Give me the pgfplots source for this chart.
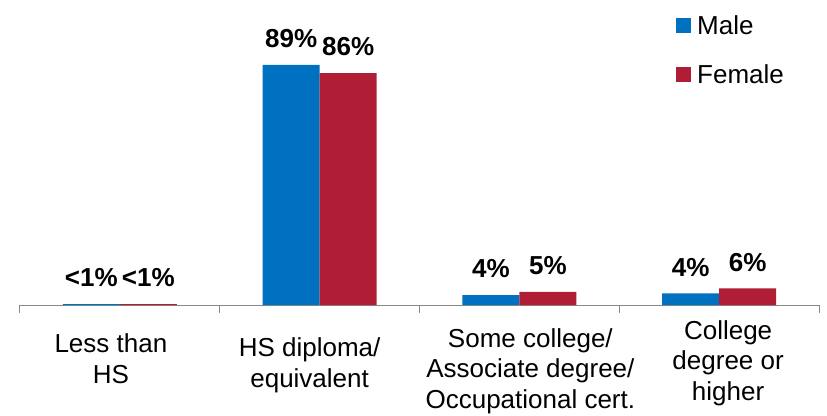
\documentclass[border=0pt]{standalone}
\usepackage{pgfplots}
\pgfplotsset{compat=1.18}
\usepackage{fontspec}
\setmainfont{Liberation Sans}
\definecolor{mblue}{RGB}{0,112,192}
\definecolor{fred}{RGB}{175,30,52}
\definecolor{axgray}{RGB}{137,137,137}
\begin{document}
\begin{tikzpicture}
\path[use as bounding box] (-20pt,-110pt) rectangle (807pt,305pt);
\begin{axis}[
  scale only axis, width=799pt, height=269.7pt,
  xmin=-0.5, xmax=3.5, ymin=0, ymax=100,
  axis y line=none, axis x line=bottom,
  x axis line style={-, draw=axgray, line width=1pt},
  xtick=\empty,
  extra x ticks={-0.5,0.5,1.5,2.5,3.5}, extra x tick labels={},
  extra x tick style={tick align=outside, major tick length=8pt, tick style={draw=axgray, line width=1pt}},
  ybar=0pt, bar width=57pt,
  clip=false,
  nodes near coords, point meta=explicit symbolic,
  every node near coord/.append style={font=\fontsize{26}{30}\selectfont\bfseries, inner sep=0pt, text depth=0pt, yshift=17pt},
  legend cell align=left,
  legend style={at={(0.821,1.075)}, anchor=north west, draw=none, fill=none,
    font=\fontsize{26}{30}\selectfont, inner sep=0pt, row sep=25pt,
    nodes={inner sep=0pt, text height=19pt, text depth=5pt},
    /tikz/every odd column/.append style={column sep=6pt},
    /tikz/every even column/.append style={column sep=0pt}},
]
\addplot[fill=mblue, draw=none, legend image code/.code={\fill[mblue] (0pt,-6pt) rectangle (15pt,9pt);}]
  coordinates {(0,0.3) [<1\%] (1,89) [89\%] (2,3.7) [4\%] (3,4.3) [4\%]};
\addplot[fill=fred, draw=none, legend image code/.code={\fill[fred] (0pt,-6pt) rectangle (15pt,9pt);}]
  coordinates {(0,0.3) [<1\%] (1,86) [86\%] (2,4.9) [5\%] (3,6.2) [6\%]};
\legend{Male, Female}
\begin{scope}[every node/.style={anchor=base, align=center, font=\fontsize{26}{30.5}\selectfont, inner sep=0pt}]
\node[xshift=-9pt, yshift=-78pt] at (axis cs:0,0) {Less than\\HS};
\node[xshift=-10pt, yshift=-82pt] at (axis cs:1,0) {HS diploma/\\equivalent};
\node[xshift=11pt, yshift=-103pt] at (axis cs:2,0) {Some college/\\Associate degree/\\Occupational cert.};
\node[xshift=9pt, yshift=-95pt] at (axis cs:3,0) {College\\degree or\\higher};
\end{scope}
\end{axis}
\end{tikzpicture}
\end{document}
